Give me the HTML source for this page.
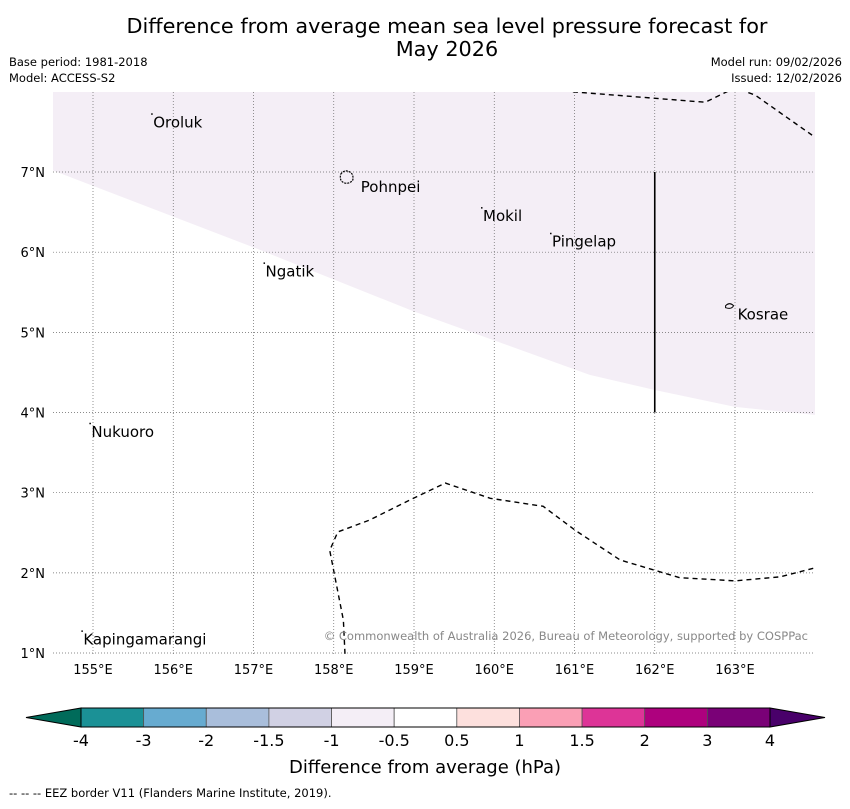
<!DOCTYPE html>
<html><head><meta charset="utf-8"><style>
body{margin:0;background:#fff;font-family:"Liberation Sans","DejaVu Sans",sans-serif}
svg text{font-family:"DejaVu Sans","Liberation Sans",sans-serif}
</style></head><body>
<svg id="chart" width="850" height="804" viewBox="0 0 850 804" xmlns="http://www.w3.org/2000/svg">
<rect width="850" height="804" fill="#fff"/>
<text x="447" y="33" font-size="20.8" text-anchor="middle">Difference from average mean sea level pressure forecast for</text>
<text x="447" y="56" font-size="20.8" text-anchor="middle">May 2026</text>
<text x="9" y="66" font-size="11.5">Base period: 1981-2018</text>
<text x="9" y="82" font-size="11.5">Model: ACCESS-S2</text>
<text x="842" y="66" font-size="11.5" text-anchor="end">Model run: 09/02/2026</text>
<text x="842" y="82" font-size="11.5" text-anchor="end">Issued: 12/02/2026</text>
<defs><clipPath id="mapclip"><rect x="53" y="92" width="762" height="562"/></clipPath></defs>
<g id="map" clip-path="url(#mapclip)"></g>
<g id="axes"></g>
<g id="cbar"></g>
<text x="425" y="773" font-size="18" text-anchor="middle">Difference from average (hPa)</text>
<text x="9" y="797" font-size="11.5">--  --  -- EEZ border V11 (Flanders Marine Institute, 2019).</text>
</svg>
<script>
const lonTicks=[155,156,157,158,159,160,161,162,163];
const latTicks=[1,2,3,4,5,6,7];
const shadeBoundaryLon=[154.5,157.0,159.0,161.19,162.0,163.0,164.0];
const shadeBoundaryLat=[7.02,6.06,5.26,4.47,4.28,4.07,3.97];
const eezTopLon=[160.98,162.63,163.0,163.25,163.96];
const eezTopLat=[8.0,7.87,8.05,7.96,7.46];
const eezBottomLon=[158.14,158.12,157.95,158.05,158.45,158.95,159.39,159.95,160.61,161.01,161.57,162.31,163.0,163.56,163.99];
const eezBottomLat=[0.99,1.41,2.28,2.51,2.66,2.91,3.12,2.93,2.83,2.53,2.16,1.94,1.90,1.95,2.06];
const islandNames=["Oroluk","Pohnpei","Mokil","Pingelap","Ngatik","Kosrae","Nukuoro","Kapingamarangi"];
const islandLon=[155.75,158.2,159.86,160.72,157.15,162.97,154.98,154.88];
const islandLat=[7.62,6.8,6.45,6.13,5.76,5.22,3.76,1.17];
const cbBounds=[-4,-3,-2,-1.5,-1,-0.5,0.5,1,1.5,2,3,4];
const cbColors=["#1b9196","#67abd0","#a9bedb","#d1d1e4","#f4eef6","#ffffff","#fde0dd","#fa9fb5","#dd3497","#ae017e","#7a0177"];
const NS="http://www.w3.org/2000/svg";
const X=lon=>93+(lon-155)*80.25;
const Y=lat=>172-(lat-7)*80.17;
function mk(tag,attrs,parent){const e=document.createElementNS(NS,tag);for(const k in attrs)e.setAttribute(k,attrs[k]);parent.appendChild(e);return e;}
const map=document.getElementById('map'),axes=document.getElementById('axes'),cb=document.getElementById('cbar');
let d="M53,92 L53,"+Y(shadeBoundaryLat[0]);
shadeBoundaryLon.forEach((l,i)=>{d+=" L"+X(l)+","+Y(shadeBoundaryLat[i]);});
d+=" L815,"+Y(shadeBoundaryLat[shadeBoundaryLat.length-1])+" L815,92 Z";
let s=mk('path',{d:d,fill:"#f4eef6",stroke:"none"},map);


lonTicks.forEach(l=>{const g=mk('line',{x1:X(l),x2:X(l),y1:92,y2:654,stroke:"#666","stroke-width":0.7,"stroke-dasharray":"1,2"},map);


const t=mk('text',{x:X(l),y:674,"font-size":13,"text-anchor":"middle"},axes);t.textContent=l+"°E";

});
latTicks.forEach(l=>{const g=mk('line',{x1:53,x2:815,y1:Y(l),y2:Y(l),stroke:"#666","stroke-width":0.7,"stroke-dasharray":"1,2"},map);


const t=mk('text',{x:45,y:Y(l)+5,"font-size":13,"text-anchor":"end"},axes);t.textContent=l+"°N";

});
function poly(lons,lats,name){const p=mk('polyline',{points:lons.map((l,i)=>X(l)+","+Y(lats[i])).join(" "),fill:"none",stroke:"#000","stroke-width":1.4,"stroke-dasharray":"5,4"},map);

}
poly(eezTopLon,eezTopLat,'eez-border-north');
poly(eezBottomLon,eezBottomLat,'eez-border-south');
const v=mk('line',{x1:X(162),x2:X(162),y1:Y(7),y2:Y(4),stroke:"#000","stroke-width":1.6},map);


islandNames.forEach((n,i)=>{const x=X(islandLon[i]),y=Y(islandLat[i]);
if(n==="Pohnpei"){const c=mk('path',{d:`M${x-9},${y-14} q4,-5 9,-2 q4,2 3,8 q-3,4 -8,3 q-6,-2 -4,-9z`,fill:"none",stroke:"#000","stroke-width":1.2,"stroke-dasharray":"2,1"},map);

}
else if(n==="Kosrae"){const c=mk('path',{d:`M${x-7},${y-9} q4,-4 8,0 q-2,4 -8,2z`,fill:"none",stroke:"#000","stroke-width":1},map);

}
else{const c=mk('rect',{x:x-2,y:y-9,width:1.5,height:1.5,fill:"#000"},map);

}
const t=mk('text',{x:x+(n==="Pohnpei"?11:(n==="Kosrae"?5:0)),y:y+(n==="Pohnpei"?4:5),"font-size":15},map);t.textContent=n;

});
const cr=mk('text',{x:808,y:640,"font-size":11.5,fill:"#888","text-anchor":"end"},map);cr.textContent="© Commonwealth of Australia 2026, Bureau of Meteorology, supported by COSPPac";


const cx0=81,cw=689/11,cy=708,ch=19;
let lt=mk('polygon',{points:`26,717.5 ${cx0},${cy} ${cx0},${cy+ch}`,fill:"#006b5a",stroke:"#000","stroke-width":1},cb);


let rt=mk('polygon',{points:`825,717.5 770,${cy} 770,${cy+ch}`,fill:"#49006a",stroke:"#000","stroke-width":1},cb);


cbColors.forEach((c,i)=>{const r=mk('rect',{x:cx0+i*cw,y:cy,width:cw,height:ch,fill:c,stroke:"#555","stroke-width":0.8},cb);

});
mk('rect',{x:cx0,y:cy,width:689,height:ch,fill:"none",stroke:"#000","stroke-width":1},cb);
cbBounds.forEach((b,i)=>{const t=mk('text',{x:cx0+i*cw,y:746,"font-size":16,"text-anchor":"middle"},cb);t.textContent=b;

});
</script>
</body></html>
